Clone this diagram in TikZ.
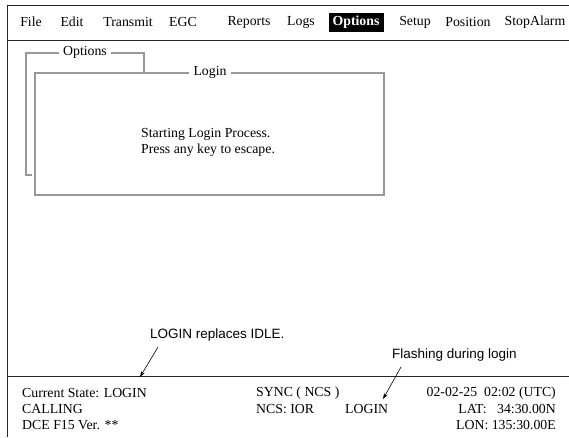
\documentclass[tikz,border=0pt]{standalone}
\usepackage{fontspec}
\setmainfont{Liberation Serif}
\newfontfamily\annofont{Liberation Sans}
\usetikzlibrary{arrows.meta, positioning}

\begin{document}
\begin{tikzpicture}[x=1pt,y=-1pt,
    every node/.style={font=\fontsize{13.8}{15}\selectfont, inner sep=0pt},
    menuitem/.style={anchor=center},
    frameline/.style={draw=black!40, line width=1.1pt},
    framelabel/.style={fill=white, inner xsep=4pt},
    screenline/.style={draw=black!85, line width=1pt},
    anno/.style={font=\annofont\fontsize{13.5}{15}\selectfont, anchor=west},
    annoarrow/.style={-{Stealth[length=6pt,width=4pt]}, line width=0.6pt},
    status/.style={anchor=west}]
    \useasboundingbox (0,0) rectangle (569,437);

    % screen border and menu bar
    \draw[screenline] (7,437) -- (7,5) -- (569,5);
    \foreach \item/\xpos in {File/31, Edit/72, Transmit/128, EGC/183, Reports/249,
        Logs/301, Setup/415, Position/468, StopAlarm/535}
        \node[menuitem] (menu-\item) at (\xpos,22) {\item};
    \node[menuitem, fill=black, text=white, minimum width=55pt, minimum height=19pt,
        font=\bfseries\fontsize{13.8}{15}\selectfont] (menu-Options) at (356,22.5) {Options};
    \draw[screenline] (7,40) -- (569,40);

    % Options window
    \node[framelabel] (optlbl) at (85,52) {Options};
    \draw[frameline] (optlbl.west |- 0,53) -- (26,53) -- (26,175) -- (32,175);
    \draw[frameline] (optlbl.east |- 0,53) -- (144,53) -- (144,72);

    % Login window
    \node[framelabel] (loginlbl) at (210,72) {Login};
    \draw[frameline] (loginlbl.west |- 0,73) -- (35,73) -- (35,195) -- (384,195)
        -- (384,73) -- (loginlbl.east |- 0,73);
    \node[anchor=west] (msg1) at (141,134) {Starting Login Process.};
    \node[anchor=west] (msg2) at (141,150) {Press any key to escape.};

    % status area
    \draw[screenline] (7,376) -- (569,376);
    \node[status] (state) at (22,393) {Current State: LOGIN};
    \node[status] (calling) at (22,409) {CALLING};
    \node[status] (dce) at (22,425) {DCE F15 Ver. **};
    \node[status] (sync) at (256,393) {SYNC ( NCS )};
    \node[status] (ncs) at (256,409) {NCS: IOR};
    \node[status] (flash) at (345,409) {LOGIN};
    \node[anchor=east] (date) at (556,393) {02-02-25\ \ 02:02 (UTC)};
    \node[anchor=east] (lat) at (556,409) {LAT:\ \ \ 34:30.00N};
    \node[anchor=east] (lon) at (556,425) {LON: 135:30.00E};

    % notes
    \node[anno] (note1) at (150,335) {LOGIN replaces IDLE.};
    \node[anno] (note2) at (392,355) {Flashing during login};
    \coordinate (tip1) at (140,377);
    \coordinate (tip2) at (383,399);
    \draw[annoarrow] (158,347) -- (tip1);
    \draw[annoarrow] (401,367) -- (tip2);
\end{tikzpicture}
\end{document}
